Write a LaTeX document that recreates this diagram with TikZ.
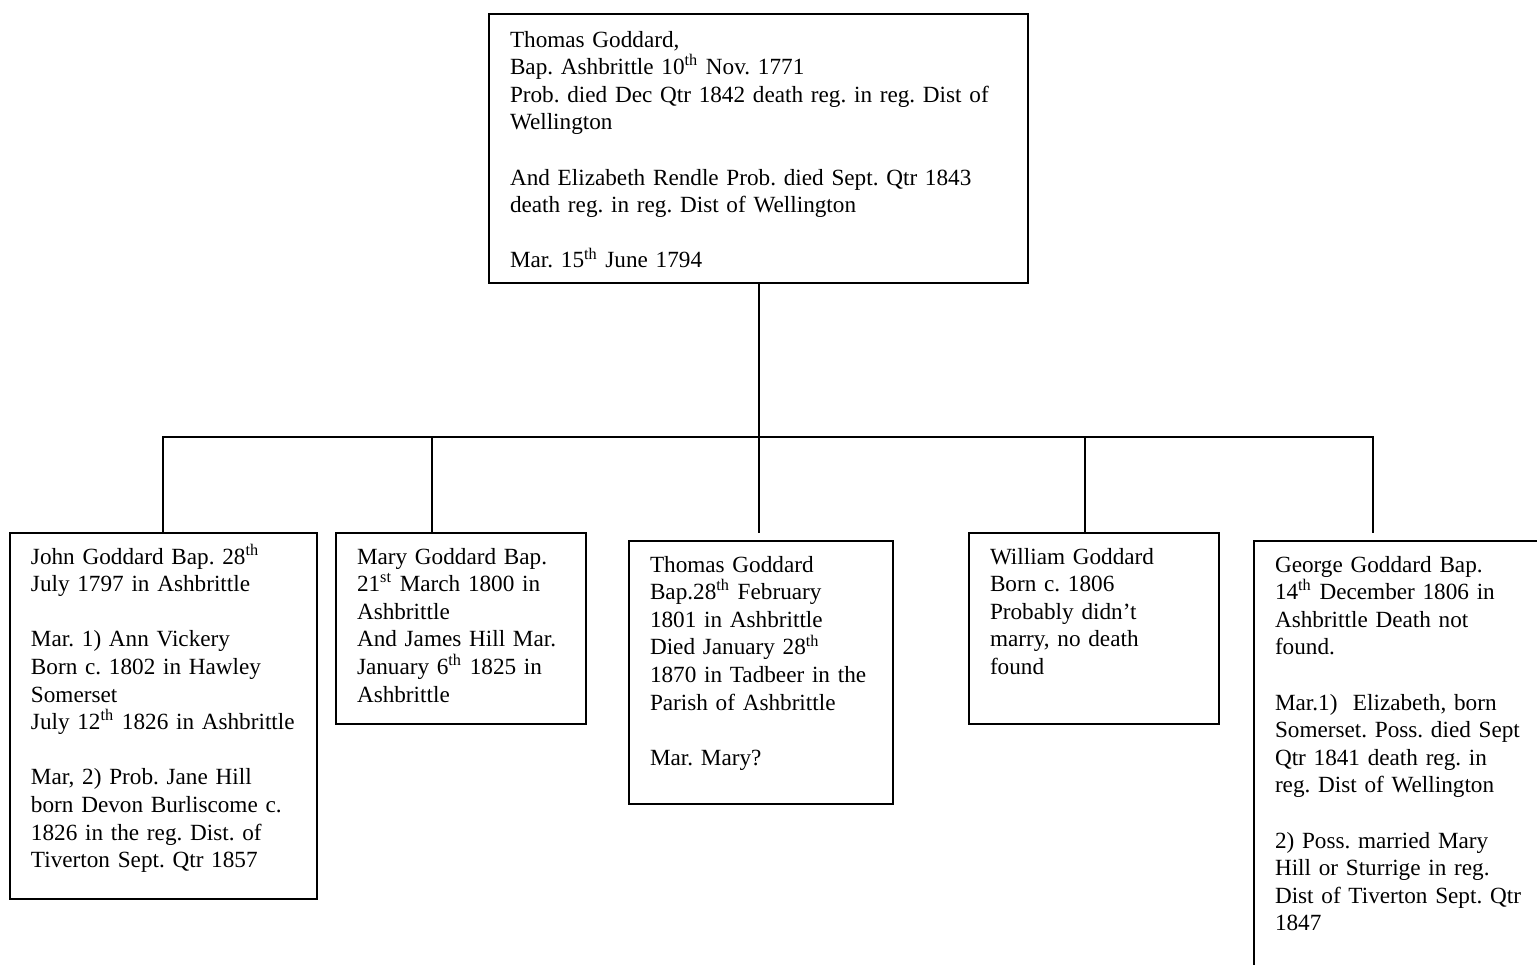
\documentclass[tikz,border=0pt]{standalone}
\usepackage{fontspec}
\setmainfont{Liberation Serif}
\frenchspacing

\begin{document}
\begin{tikzpicture}[x=0.5pt, y=-0.5pt, line width=1pt,
    box/.style={draw, anchor=north west, align=left, outer sep=0pt,
      inner xsep=6pt, inner ysep=0pt, text height=15.5pt,
      font=\fontsize{11.6}{13.8}\selectfont,
      execute at begin node={\leftskip=4.5pt\hyphenpenalty=10000}}]
         \fill [white] (0, 0) rectangle (1537, 964);
         \clip (0, 0) rectangle (1537, 964);
         \node [box, text width=257.5pt, text height=16.5pt, text depth=118pt] (TG) at (489, 14) {Thomas Goddard,\\ Bap. Ashbrittle 10\textsuperscript{th} Nov. 1771\\ Prob. died Dec Qtr 1842 death reg. in reg. Dist of\\ Wellington\\[13.8pt] And Elizabeth Rendle Prob. died Sept. Qtr 1843\\ death reg. in reg. Dist of Wellington\\[13.8pt] Mar. 15\textsuperscript{th} June 1794};
         \node [box, text width=141.5pt, text depth=167.5pt] (JG) at (10, 533) {John Goddard Bap. 28\textsuperscript{th}\\ July 1797 in Ashbrittle\\[13.8pt] Mar. 1) Ann Vickery\\ Born c. 1802 in Hawley\\ Somerset\\ July 12\textsuperscript{th} 1826 in Ashbrittle\\[13.8pt] Mar, 2) Prob. Jane Hill\\ born Devon Burliscome c.\\ 1826 in the reg. Dist. of\\ Tiverton Sept. Qtr 1857};
         \node [box, text width=113pt, text depth=80pt] (MG) at (336, 533) {Mary Goddard Bap.\\ 21\textsuperscript{st} March 1800 in\\ Ashbrittle\\ And James Hill Mar.\\ January 6\textsuperscript{th} 1825 in\\ Ashbrittle};
         \node [box, text width=120pt, text depth=116pt] (TJ) at (629, 541) {Thomas Goddard\\ Bap.28\textsuperscript{th} February\\ 1801 in Ashbrittle\\ Died January 28\textsuperscript{th}\\ 1870 in Tadbeer in the\\ Parish of Ashbrittle\\[13.8pt] Mar. Mary?};
         \node [box, text width=113pt, text depth=80pt] (WG) at (969, 533) {William Goddard\\ Born c. 1806\\ Probably didn’t\\ marry, no death\\ found};
         \node [box, text width=170pt, text depth=220pt] (GG) at (1254, 541) {George Goddard Bap.\\ 14\textsuperscript{th} December 1806 in\\ Ashbrittle Death not\\ found.\\[13.8pt] Mar.1)\ \ Elizabeth, born\\ Somerset. Poss. died Sept\\ Qtr 1841 death reg. in\\ reg. Dist of Wellington\\[13.8pt] 2) Poss. married Mary\\ Hill or Sturrige in reg.\\ Dist of Tiverton Sept. Qtr\\ 1847};
         \coordinate (B1) at (163, 437);
         \coordinate (B2) at (432, 437);
         \coordinate (B3) at (TG.south |- B1);
         \coordinate (B4) at (1085, 437);
         \coordinate (B5) at (1373, 437);
         \draw (TG.south) -- (B3);
         \draw (B1 |- JG.north) -- (B1) -- (B5) -- (B5 |- WG.north);
         \draw (B2) -- (B2 |- MG.north);
         \draw (B3) -- (B3 |- WG.north);
         \draw (B4) -- (B4 |- WG.north);
\end{tikzpicture}
\end{document}
